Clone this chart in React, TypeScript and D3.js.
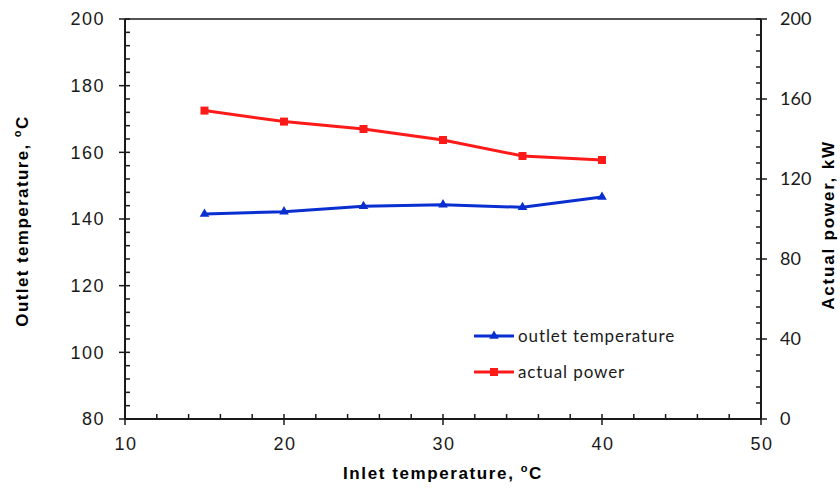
import React, { useRef, useEffect } from 'react'
import * as d3 from 'd3'

const inletTemps = [15, 20, 25, 30, 35, 40]
const outletTemp = [141.5, 142.2, 143.8, 144.3, 143.5, 146.6]
const actualPower = [154.2, 148.7, 145.0, 139.5, 131.5, 129.5]
const xTicks = [10, 20, 30, 40, 50]
const leftTicks = [80, 100, 120, 140, 160, 180, 200]
const rightTicks = [0, 40, 80, 120, 160, 200]

export default function App() {
  const ref = useRef<SVGSVGElement>(null)

  useEffect(() => {
    if (!ref.current) return
    const svg = d3.select(ref.current)
    svg.selectAll('*').remove()

    const left = 125, right = 761, top = 19, bottom = 419
    const x = d3.scaleLinear().domain([10, 50]).range([left, right])
    const yL = d3.scaleLinear().domain([80, 200]).range([bottom, top])
    const yR = d3.scaleLinear().domain([0, 200]).range([bottom, top])
    const ink = '#1a1a1a'
    const sans = 'Liberation Sans, Arial, sans-serif'
    const cal = 'Lato, Open Sans, sans-serif'

    // frame
    svg.append('line').attr('x1', left).attr('x2', right).attr('y1', top).attr('y2', top).attr('stroke', ink).attr('stroke-width', 1.5)
    svg.append('line').attr('x1', left).attr('x2', right).attr('y1', bottom).attr('y2', bottom).attr('stroke', ink).attr('stroke-width', 2)
    svg.append('line').attr('x1', left).attr('x2', left).attr('y1', top).attr('y2', bottom).attr('stroke', ink).attr('stroke-width', 2)
    svg.append('line').attr('x1', right).attr('x2', right).attr('y1', top).attr('y2', bottom).attr('stroke', ink).attr('stroke-width', 2)

    // left axis ticks
    d3.range(80, 200.1, 4).forEach(v => {
      const major = v % 20 === 0
      svg.append('line').attr('x1', major ? left - 6 : left).attr('x2', left + 5)
        .attr('y1', yL(v)).attr('y2', yL(v)).attr('stroke', ink).attr('stroke-width', 1.5)
    })
    leftTicks.forEach(v => {
      svg.append('text').attr('x', left - 20).attr('y', yL(v)).attr('dy', '0.35em')
        .attr('text-anchor', 'end').attr('font-family', sans).attr('font-size', 18)
        .attr('letter-spacing', 1.5).attr('fill', ink).text(v)
    })

    // right axis ticks
    d3.range(0, 200.1, 8).forEach(v => {
      const major = v % 40 === 0
      svg.append('line').attr('x1', right - 5).attr('x2', major ? right + 6 : right)
        .attr('y1', yR(v)).attr('y2', yR(v)).attr('stroke', ink).attr('stroke-width', 1.5)
    })
    rightTicks.forEach(v => {
      svg.append('text').attr('x', right + 19).attr('y', yR(v)).attr('dy', '0.35em')
        .attr('text-anchor', 'start').attr('font-family', cal).attr('font-size', 18).attr('fill', ink).text(v)
    })

    // x axis ticks
    d3.range(10, 50.1, 2).forEach(v => {
      const major = v % 10 === 0
      svg.append('line').attr('x1', x(v)).attr('x2', x(v))
        .attr('y1', bottom - 5).attr('y2', major ? bottom + 6 : bottom).attr('stroke', ink).attr('stroke-width', 1.5)
    })
    xTicks.forEach(v => {
      svg.append('text').attr('x', x(v) + 1).attr('y', bottom + 31)
        .attr('text-anchor', 'middle').attr('font-family', sans).attr('font-size', 18)
        .attr('letter-spacing', 1.5).attr('fill', ink).text(v)
    })

    // axis titles
    const title = (tx: number, ty: number, rot: number, label: string, spacing: number) => {
      const t = svg.append('text').attr('transform', `translate(${tx},${ty}) rotate(${rot})`)
        .attr('text-anchor', 'middle').attr('font-family', sans).attr('font-size', 17)
        .attr('letter-spacing', spacing).attr('font-weight', 'bold').attr('fill', '#000')
      t.append('tspan').text(label)
      return t
    }
    const lt = title(28, 221, -90, 'Outlet temperature, ', 1.4)
    lt.append('tspan').attr('font-size', 11).attr('dy', -7).text('o')
    lt.append('tspan').attr('dy', 7).text('C')
    const bt = title(443, 479, 0, 'Inlet temperature, ', 1.6)
    bt.append('tspan').attr('font-size', 11).attr('dy', -7).text('o')
    bt.append('tspan').attr('dy', 7).text('C')
    title(834, 225, -90, 'Actual power, kW', 1.8)

    // series
    const lineL = d3.line<number>().x((_, i) => x(inletTemps[i])).y(d => yL(d))
    const lineR = d3.line<number>().x((_, i) => x(inletTemps[i])).y(d => yR(d))
    const blue = '#0a2fd0'
    const red = '#ff1a1a'
    svg.append('path').attr('d', lineL(outletTemp)).attr('fill', 'none').attr('stroke', blue).attr('stroke-width', 3)
    svg.append('path').attr('d', lineR(actualPower)).attr('fill', 'none').attr('stroke', red).attr('stroke-width', 3)
    const tri = d3.symbol().type(d3.symbolTriangle).size(40)
    outletTemp.forEach((v, i) => {
      svg.append('path').attr('d', tri()).attr('transform', `translate(${x(inletTemps[i])},${yL(v)})`).attr('fill', blue)
    })
    actualPower.forEach((v, i) => {
      svg.append('rect').attr('x', x(inletTemps[i]) - 4).attr('y', yR(v) - 4).attr('width', 8).attr('height', 8).attr('fill', red)
    })

    // legend
    const legend = [
      { label: 'outlet temperature', color: blue, y: 336, shape: 'tri' },
      { label: 'actual power', color: red, y: 372, shape: 'sq' },
    ]
    legend.forEach(l => {
      svg.append('line').attr('x1', 474).attr('x2', 514).attr('y1', l.y).attr('y2', l.y).attr('stroke', l.color).attr('stroke-width', 3)
      if (l.shape === 'tri') {
        svg.append('path').attr('d', tri()).attr('transform', `translate(494,${l.y})`).attr('fill', l.color)
      } else {
        svg.append('rect').attr('x', 490).attr('y', l.y - 4).attr('width', 8).attr('height', 8).attr('fill', l.color)
      }
      svg.append('text').attr('x', 518).attr('y', l.y).attr('dy', '0.35em').attr('font-family', cal)
        .attr('font-size', 17).attr('letter-spacing', 0.9).attr('fill', ink).text(l.label)
    })
  }, [])

  return (
    <svg ref={ref} width={840} height={493} style={{ position: 'absolute', left: 0, top: 0, background: '#fff' }} />
  )
}
